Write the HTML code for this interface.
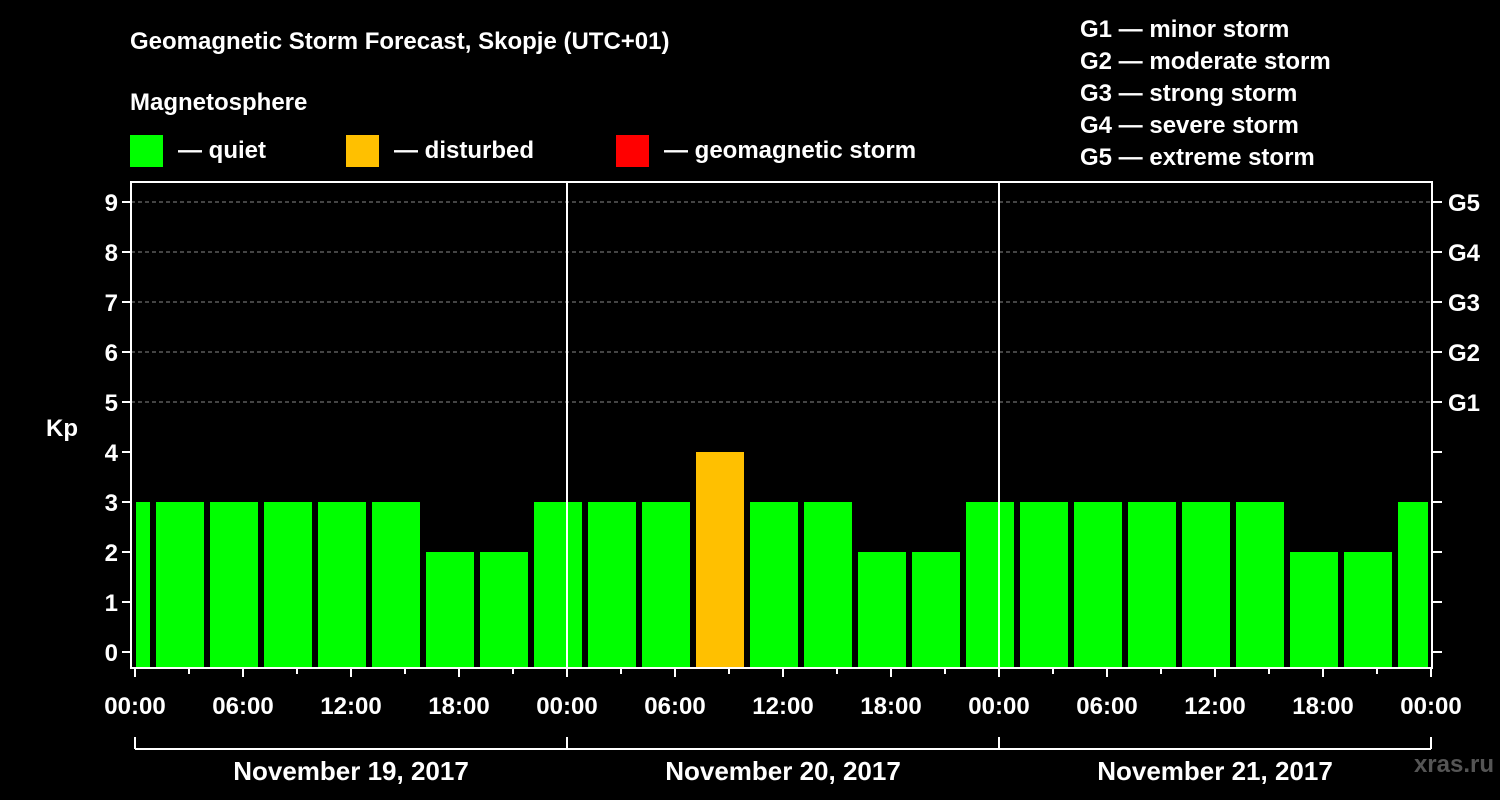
<!DOCTYPE html>
<html><head><meta charset="utf-8"><style>
html,body{margin:0;padding:0;background:#000;}
svg{display:block;font-family:"Liberation Sans",sans-serif;font-weight:bold;}
</style></head><body>
<svg id="chart" width="1500" height="800" xmlns="http://www.w3.org/2000/svg">
<rect width="1500" height="800" fill="#000"/>
<text x="130" y="49" fill="#fff" font-size="24">Geomagnetic Storm Forecast, Skopje (UTC+01)</text>
<text x="130" y="110" fill="#fff" font-size="24">Magnetosphere</text>
<g><rect x="130" y="135" width="33" height="32" fill="#00ff00"/><text x="178" y="158" fill="#fff" font-size="24">— quiet</text></g>
<g><rect x="346" y="135" width="33" height="32" fill="#ffc000"/><text x="394" y="158" fill="#fff" font-size="24">— disturbed</text></g>
<g><rect x="616" y="135" width="33" height="32" fill="#ff0000"/><text x="664" y="158" fill="#fff" font-size="24">— geomagnetic storm</text></g>
<g fill="#fff" font-size="24">
<text x="1080" y="37">G1 — minor storm</text>
<text x="1080" y="69">G2 — moderate storm</text>
<text x="1080" y="101">G3 — strong storm</text>
<text x="1080" y="133">G4 — severe storm</text>
<text x="1080" y="165">G5 — extreme storm</text>
</g>
<defs><clipPath id="pc"><rect x="136" y="182" width="1292" height="486"/></clipPath></defs>
<g id="grid"></g>
<g id="bars" clip-path="url(#pc)"></g>
<g id="axes"></g>
<text x="1494" y="772" fill="#555" font-size="24" text-anchor="end">xras.ru</text>
</svg>
<script>
const kpValues=[3,3,3,3,3,3,2,2,3, 3,3,4,3,3,2,2,3, 3,3,3,3,3,2,2,3];
const firstSlotHour=-2;
const yTicks=[0,1,2,3,4,5,6,7,8,9];
const gLabels=["G1","G2","G3","G4","G5"];
const xTickLabels=["00:00","06:00","12:00","18:00","00:00","06:00","12:00","18:00","00:00","06:00","12:00","18:00","00:00"];
const dayLabels=["November 19, 2017","November 20, 2017","November 21, 2017"];

const NS="http://www.w3.org/2000/svg";
const L=131,R=1432,T=182,B=668;
const x=h=>135+18*h;
const y=v=>652-50*v;
function mk(tag,attrs,parent,text){const e=document.createElementNS(NS,tag);for(const k in attrs)e.setAttribute(k,attrs[k]);if(text!==undefined)e.textContent=text;parent.appendChild(e);return e;}
const grid=document.getElementById('grid'),bars=document.getElementById('bars'),axes=document.getElementById('axes');
// grid lines
for(let v=5;v<=9;v++){const l=mk('line',{x1:L,x2:R,y1:y(v),y2:y(v),stroke:'#888','stroke-dasharray':'4,3','stroke-width':1},grid);

}
// bars
kpValues.forEach((v,i)=>{const h=firstSlotHour+3*i;const c=v>=5?'#ff0000':(v>=4?'#ffc000':'#00ff00');
const r=mk('rect',{x:x(h)+3,y:y(v),width:48,height:B-y(v),fill:c},bars);

});
// day separators
[1,2].forEach(d=>{const l=mk('line',{x1:x(24*d),x2:x(24*d),y1:T,y2:B,stroke:'#fff','stroke-width':2},axes);

});
// frame
const f=mk('rect',{x:L,y:T,width:R-L,height:B-T,fill:'none',stroke:'#fff','stroke-width':2},axes);


// y ticks
yTicks.forEach(v=>{mk('line',{x1:L-9,x2:L,y1:y(v),y2:y(v),stroke:'#fff','stroke-width':2},axes);
mk('line',{x1:R,x2:R+10,y1:y(v),y2:y(v),stroke:'#fff','stroke-width':2},axes);
const t=mk('text',{x:118,y:y(v)+9,fill:'#fff','font-size':24,'text-anchor':'end'},axes,String(v));

});
gLabels.forEach((g,i)=>{const t=mk('text',{x:1448,y:y(5+i)+9,fill:'#fff','font-size':24},axes,g);

});
const kp=mk('text',{x:62,y:436,fill:'#fff','font-size':24,'text-anchor':'middle'},axes,'Kp');


// x ticks
for(let h=0;h<=72;h+=3){const major=h%6===0;mk('line',{x1:x(h),x2:x(h),y1:B,y2:B+(major?9:6),stroke:'#fff','stroke-width':2},axes);}
xTickLabels.forEach((s,i)=>{const t=mk('text',{x:x(6*i),y:714,fill:'#fff','font-size':24,'text-anchor':'middle'},axes,s);

});
// day bracket
mk('line',{x1:x(0),x2:x(72),y1:749,y2:749,stroke:'#fff','stroke-width':2},axes);
for(let d=0;d<=3;d++)mk('line',{x1:x(24*d),x2:x(24*d),y1:737,y2:749,stroke:'#fff','stroke-width':2},axes);
dayLabels.forEach((s,i)=>{const t=mk('text',{x:x(24*i+12),y:780,fill:'#fff','font-size':26,'text-anchor':'middle'},axes,s);

});
</script>
</body></html>
